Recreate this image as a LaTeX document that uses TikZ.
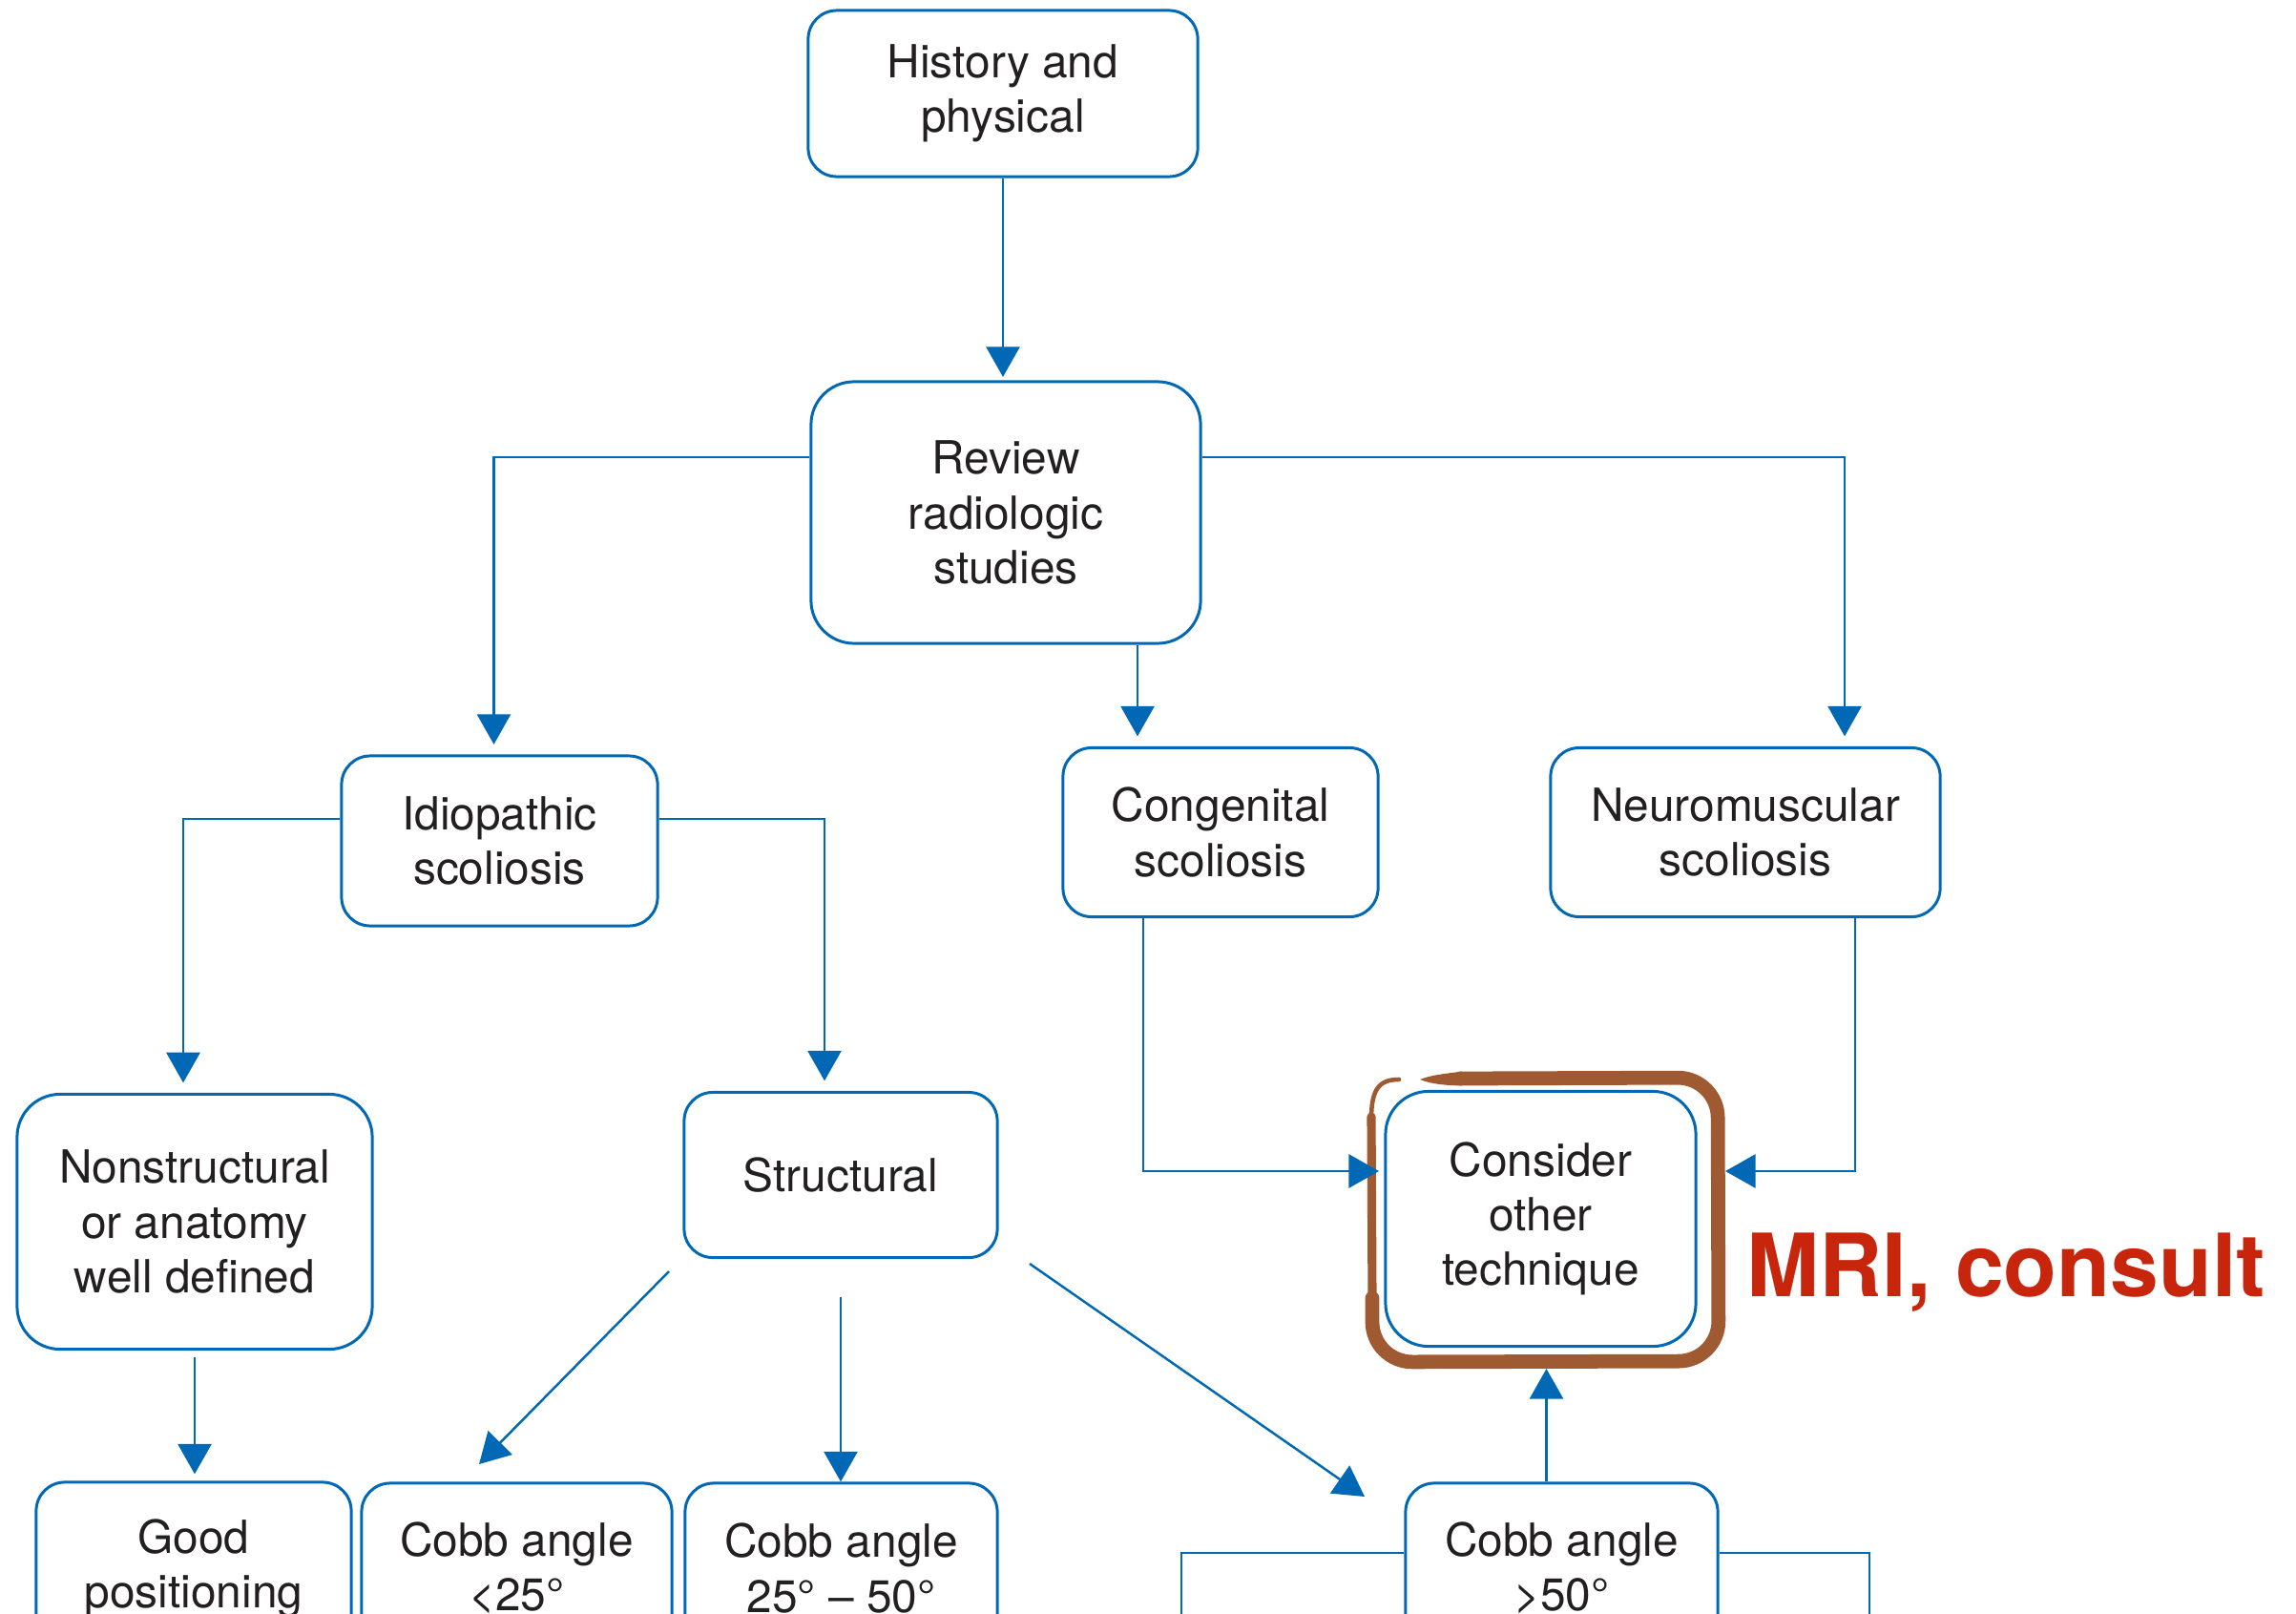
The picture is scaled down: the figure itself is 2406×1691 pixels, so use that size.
\documentclass[tikz,border=0pt]{standalone}
\usepackage{fontspec}
\setmainfont{TeX Gyre Heros}
\usetikzlibrary{arrows.meta,calc}
\definecolor{flowblue}{RGB}{0,104,180}
\definecolor{inkgray}{RGB}{35,31,32}
\definecolor{markbrown}{RGB}{160,90,50}
\definecolor{notered}{RGB}{200,38,12}

\begin{document}
\begin{tikzpicture}[x=0.01cm,y=-0.01cm,
  box/.style={draw=flowblue, line width=0.85pt, rounded corners=0.3cm,
    align=center, inner sep=0pt, text=inkgray,
    font=\fontsize{13.6}{16.3}\selectfont},
  bigbox/.style={box, rounded corners=0.45cm},
  caption/.style={align=center, inner sep=0pt, text=inkgray,
    font=\fontsize{13.6}{16.3}\selectfont},
  link/.style={draw=flowblue, line width=0.7pt},
  arr/.style={link, -{Triangle[length=9pt,width=10pt]}},
  pen/.style={draw=markbrown, line cap=round, line join=round},
]
\useasboundingbox (0,0) rectangle (2406,1691);

% ---- boxes ----
\node[box, minimum width=4.08cm, minimum height=1.74cm] (hist) at (1051,98)
  {History and\\physical};
\node[bigbox, minimum width=4.08cm, minimum height=2.74cm] (review) at (1054,537)
  {Review\\radiologic\\studies};
\node[box, minimum width=3.31cm, minimum height=1.78cm] (idio) at (523.5,881)
  {Idiopathic\\scoliosis};
\node[box, minimum width=3.30cm, minimum height=1.77cm] (cong) at (1279,872)
  {Congenital\\scoliosis};
\node[box, minimum width=4.08cm, minimum height=1.77cm] (neuro) at (1829,872)
  {Neuromuscular\\scoliosis};
\node[bigbox, minimum width=3.72cm, minimum height=2.67cm] (nonstr) at (204,1280)
  {Nonstructural\\or anatomy\\well defined};
\node[box, minimum width=3.28cm, minimum height=1.73cm] (struct) at (881,1231)
  {Structural};
\node[bigbox, minimum width=3.25cm, minimum height=2.67cm] (consider) at (1614.5,1277)
  {Consider\\other\\technique};

% hand-drawn highlight around the last box
\coordinate (frameW) at (1445,1227);
\coordinate (frameE) at (1808,1227);
\coordinate (frameS) at (1620,1434);
\draw[pen, line width=4.2pt, rounded corners=0.42cm]
  (1530,1130) -- (1800,1129) -- (1801,1426) -- (1438,1427) -- (1438,1360);
\draw[pen, line width=2.6pt] (1438,1362) -- (1437,1170);
\draw[pen, line width=1.3pt] (1437,1172) .. controls (1437,1140) and (1446,1131) .. (1466,1131);
\fill[markbrown] (1488,1131) .. controls (1500,1126) and (1515,1125) .. (1532,1122.5)
  -- (1532,1137.5) .. controls (1515,1137) and (1500,1136) .. (1488,1131) -- cycle;

\node[font=\fontsize{26}{30}\selectfont\bfseries, text=notered, anchor=base west,
  inner sep=0pt] (mri) at (1830,1358) {MRI, consult};

% bottom row, running past the lower edge
\node[box, minimum width=3.30cm, minimum height=3.00cm] (good) at (203,1703) {};
\node[box, minimum width=3.25cm, minimum height=3.00cm] (cobbA) at (541.5,1704) {};
\node[box, minimum width=3.27cm, minimum height=3.00cm] (cobbB) at (881.5,1704) {};
\node[box, minimum width=3.27cm, minimum height=3.00cm] (cobbC) at (1636.5,1704) {};
\node[caption] (goodT) at (203,1643) {Good\\positioning};
\node[caption] (cobbAT) at (541.5,1643) {Cobb angle\\<25°};
\node[caption] (cobbBT) at (881.5,1643) {Cobb angle\\25° – 50°};
\node[caption] (cobbCT) at (1636.5,1643) {Cobb angle\\>50°};

% ---- connectors ----
\draw[arr, shorten >=1pt] (hist.south) -- (hist.south |- review.north);

\coordinate (rvL) at ($(review.west)+(0,-58)$);
\coordinate (rvR) at ($(review.east)+(0,-58)$);
\coordinate (rvB) at ($(review.south)+(138,0)$);
\coordinate (idIn) at ($(idio.north)+(-6,0)$);
\coordinate (nmIn) at ($(neuro.north)+(104,0)$);
\draw[arr, shorten >=3pt] (rvL) -| (idIn);
\draw[arr, shorten >=3pt] (rvB) -- (rvB |- cong.north);
\draw[arr, shorten >=3pt] (rvR) -| (nmIn);

\coordinate (idL) at ($(idio.west)+(0,-23)$);
\coordinate (idR) at ($(idio.east)+(0,-23)$);
\coordinate (nsIn) at ($(nonstr.north)+(-12,0)$);
\coordinate (stIn) at ($(struct.north)+(-17,0)$);
\draw[arr, shorten >=3pt] (idL) -| (nsIn);
\draw[arr, shorten >=3pt] (idR) -| (stIn);

\coordinate (cgOut) at ($(cong.south)+(-81,0)$);
\coordinate (nmOut) at ($(neuro.south)+(115,0)$);
\draw[arr] (cgOut) |- (frameW);
\draw[arr] (nmOut) |- (frameE);

\draw[arr, shorten <=2pt, shorten >=2pt] (nonstr.south) -- (nonstr.south |- good.north);

\coordinate (sA) at (701,1332);
\coordinate (eA) at (502,1534);
\coordinate (sB) at (881,1359);
\coordinate (sC) at (1079,1324);
\coordinate (eC) at (1430,1568);
\draw[arr] (sA) -- (eA);
\draw[arr] (sB) -- (sB |- cobbB.north);
\draw[arr] (sC) -- (eC);

\coordinate (ccTop) at ($(cobbC.north)+(-16,0)$);
\draw[arr] (ccTop) -- (ccTop |- frameS);

\coordinate (offL) at (1238,1760);
\coordinate (offR) at (1959,1760);
\coordinate (ccL) at ($(cobbC.west)+(0,-77)$);
\coordinate (ccR) at ($(cobbC.east)+(0,-77)$);
\draw[link] (ccL) -| (offL);
\draw[link] (ccR) -| (offR);
\end{tikzpicture}
\end{document}
